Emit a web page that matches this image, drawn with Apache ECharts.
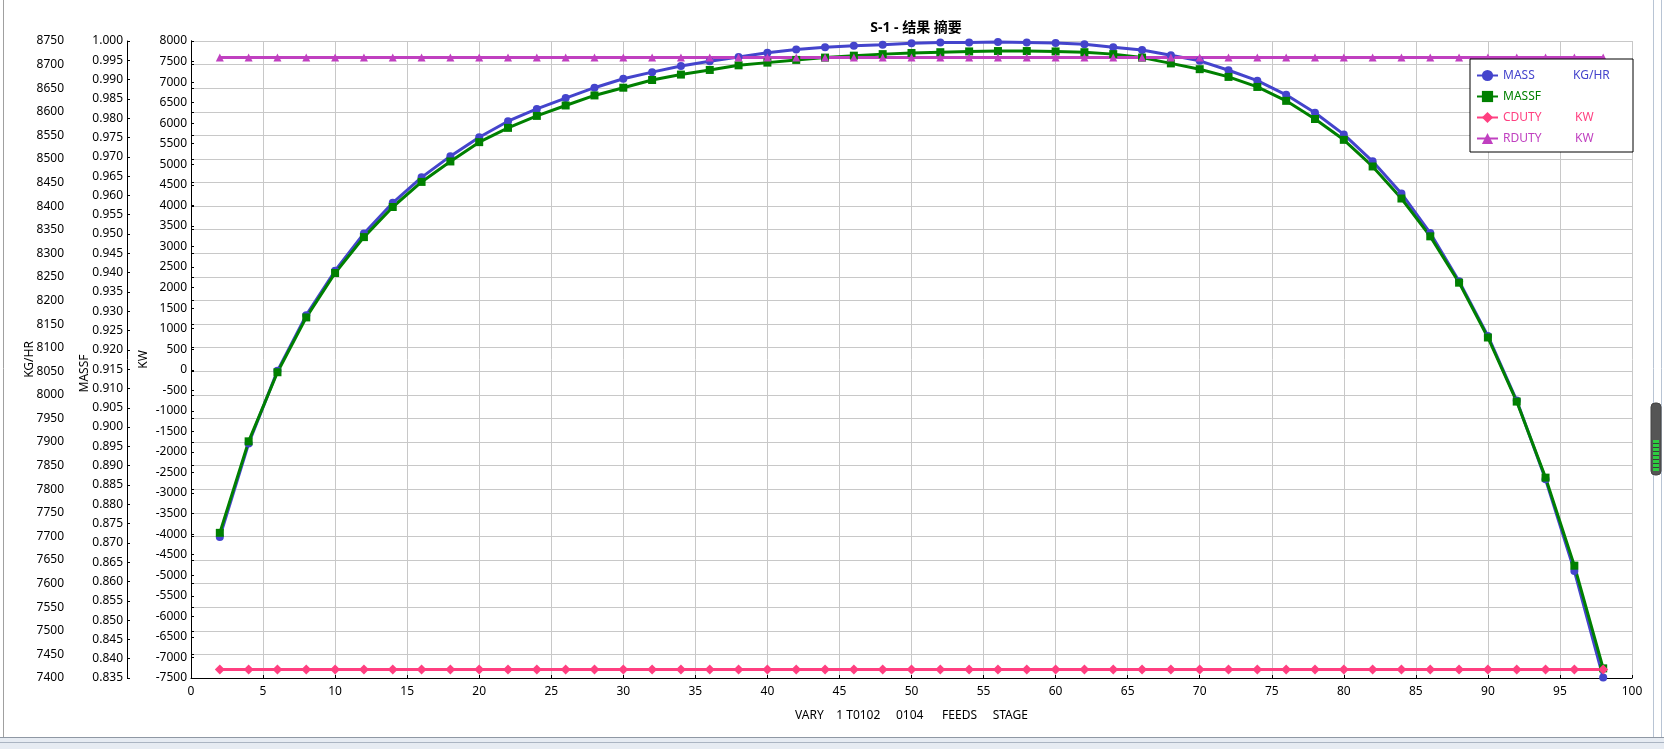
<!DOCTYPE html>
<html>
<head>
<meta charset="utf-8">
<title>S-1 - 结果 摘要</title>
<script src="https://cdn.jsdelivr.net/npm/echarts@6/dist/echarts.min.js"></script>
<style>
  html, body { margin: 0; padding: 0; background: #fff; }
  #chart_div { width: 1664px; height: 749px; }
</style>
</head>
<body>
<div id="chart_div"></div>
<script>
// 横轴：进料板位置
var stage = [2, 4, 6, 8, 10, 12, 14, 16, 18, 20, 22, 24, 26, 28, 30, 32, 34, 36, 38, 40,
  42, 44, 46, 48, 50, 52, 54, 56, 58, 60, 62, 64, 66, 68, 70, 72, 74, 76, 78, 80,
  82, 84, 86, 88, 90, 92, 94, 96, 98]

// MASS  KG/HR
var mass = [7699, 7897, 8051, 8169, 8263, 8342, 8407, 8461, 8506, 8546,
  8580, 8606, 8629, 8651, 8670, 8684, 8697, 8707, 8716, 8725,
  8732, 8737, 8740, 8742, 8745, 8747, 8747, 8748, 8747, 8746,
  8743, 8737, 8731, 8720, 8708, 8688, 8666, 8636, 8598, 8552,
  8495, 8427, 8343, 8241, 8125, 7988, 7821, 7627, 7401]

// MASSF
var massf = [0.8726, 0.8963, 0.9142, 0.9284, 0.9399, 0.9492, 0.9570, 0.9635, 0.9688, 0.9738,
  0.9775, 0.9806, 0.9833, 0.9859, 0.9879, 0.9899, 0.9913, 0.9925, 0.9937, 0.9944,
  0.9951, 0.9957, 0.9962, 0.9966, 0.9969, 0.9971, 0.9973, 0.9974, 0.9974, 0.9973,
  0.9971, 0.9966, 0.9957, 0.9942, 0.9927, 0.9907, 0.9881, 0.9845, 0.9798, 0.9744,
  0.9675, 0.9592, 0.9494, 0.9374, 0.9232, 0.9066, 0.8869, 0.8641, 0.8375]

// CDUTY  KW
var cduty = [-7295, -7295, -7295, -7295, -7295, -7295, -7295, -7295, -7295, -7295,
  -7295, -7295, -7295, -7295, -7295, -7295, -7295, -7295, -7295, -7295,
  -7295, -7295, -7295, -7295, -7295, -7295, -7295, -7295, -7295, -7295,
  -7295, -7295, -7295, -7295, -7295, -7295, -7295, -7295, -7295, -7295,
  -7295, -7295, -7295, -7295, -7295, -7295, -7295, -7295, -7295]

// RDUTY  KW
var rduty = [7600, 7600, 7600, 7600, 7600, 7600, 7600, 7600, 7600, 7600,
  7600, 7600, 7600, 7600, 7600, 7600, 7600, 7600, 7600, 7600,
  7600, 7600, 7600, 7600, 7600, 7600, 7600, 7600, 7600, 7600,
  7600, 7600, 7600, 7600, 7600, 7600, 7600, 7600, 7600, 7600,
  7600, 7600, 7600, 7600, 7600, 7600, 7600, 7600, 7600]

var colors = {
  MASS: '#4444cc',
  MASSF: '#008000',
  CDUTY: '#ff3f80',
  RDUTY: '#c040c0'
}

var FONT = 'Noto Sans, Noto Sans CJK SC, sans-serif'

function pairs(vals) {
  return stage.map(function (s, i) { return [s, vals[i]] })
}

// 不要千位分隔符
function plain(v) { return String(v) }

function yAx(name, min, max, interval, offset, extra) {
  var ax = {
    type: 'value',
    position: 'left',
    offset: offset,
    min: min,
    max: max,
    interval: interval,
    name: name,
    nameLocation: 'middle',
    nameGap: 0,
    nameMoveOverlap: false,
    nameTextStyle: { color: '#000', fontSize: 12, fontFamily: FONT },
    axisLine: { show: true, lineStyle: { color: '#000', width: 1 } },
    axisTick: { show: true, inside: true, length: 3, lineStyle: { color: '#000' } },
    axisLabel: { color: '#000', fontSize: 12, fontFamily: FONT, margin: 4, formatter: plain },
    splitLine: { show: false }
  }
  return Object.assign(ax, extra || {})
}

var myChart = echarts.init(document.getElementById('chart_div'), null, { renderer: 'canvas' })

var richBase = { lineHeight: 14, fontSize: 12, fontFamily: FONT }
function rs(color, width) {
  return Object.assign({ color: color, width: width }, richBase)
}

var option = {
  backgroundColor: '#fff',
  animation: false,
  title: {
    text: 'S-1 - 结果 摘要',
    left: 911,
    top: 16,
    textAlign: 'center',
    textStyle: { fontSize: 14, fontWeight: 'bold', color: '#000', fontFamily: FONT }
  },
  grid: { left: 191, right: 32, top: 41, bottom: 71 },
  legend: {
    orient: 'vertical',
    left: 1470,
    top: 59,
    padding: [10.5, 6, 7.5, 6],
    itemWidth: 21,
    itemHeight: 14,
    itemGap: 9,
    backgroundColor: '#fff',
    borderColor: '#000',
    borderWidth: 1,
    borderRadius: 0,
    data: ['MASS', 'MASSF', 'CDUTY', 'RDUTY'],
    formatter: function (name) {
      var k = { MASS: 'm', MASSF: 'f', CDUTY: 'c', RDUTY: 'r' }[name]
      var unit = { MASS: 'KG/HR', MASSF: '', CDUTY: 'KW', RDUTY: 'KW' }[name]
      return '{' + k + 'n|' + name + '}{' + k + 'u|' + unit + '}'
    },
    textStyle: {
      fontSize: 12,
      fontFamily: FONT,
      rich: {
        mn: rs(colors.MASS, 70), mu: rs(colors.MASS, 54),
        fn: rs(colors.MASSF, 70), fu: rs(colors.MASSF, 54),
        cn: rs(colors.CDUTY, 72), cu: rs(colors.CDUTY, 52),
        rn: rs(colors.RDUTY, 72), ru: rs(colors.RDUTY, 52)
      }
    }
  },
  xAxis: {
    type: 'value',
    min: 0,
    max: 100,
    interval: 5,
    name: 'VARY    1 T0102     0104      FEEDS     STAGE',
    nameLocation: 'middle',
    nameGap: 32,
    nameMoveOverlap: false,
    nameTextStyle: { color: '#000', fontSize: 12, fontFamily: FONT },
    axisLine: { show: true, onZero: false, lineStyle: { color: '#000', width: 1 } },
    axisTick: { show: true, inside: true, length: 3, lineStyle: { color: '#000' } },
    axisLabel: { color: '#000', fontSize: 12, fontFamily: FONT, margin: 8, formatter: plain },
    splitLine: { show: true, lineStyle: { color: '#c8c8c8', width: 1 } }
  },
  yAxis: [
    yAx('KG/HR', 7400, 8750, 50, 123, {
      nameGap: 32,
      splitLine: { show: true, lineStyle: { color: '#c8c8c8', width: 1 } }
    }),
    yAx('MASSF', 0.835, 1.0, 0.005, 64, {
      nameGap: 36,
      nameTextStyle: { color: '#000', fontSize: 12, fontFamily: FONT, padding: [0, 28, 0, 0] },
      axisLabel: {
        color: '#000', fontSize: 12, fontFamily: FONT, margin: 4,
        formatter: function (v) { return v.toFixed(3) }
      }
    }),
    yAx('KW', -7500, 8000, 500, 0, { nameGap: 41.5 })
  ],
  series: [
    {
      name: 'MASS', type: 'line', yAxisIndex: 0, data: pairs(mass),
      symbol: 'circle', symbolSize: 8, clip: false,
      lineStyle: { color: colors.MASS, width: 3 },
      itemStyle: { color: colors.MASS }
    },
    {
      name: 'MASSF', type: 'line', yAxisIndex: 1, data: pairs(massf),
      symbol: 'rect', symbolSize: 8, clip: false,
      lineStyle: { color: colors.MASSF, width: 3 },
      itemStyle: { color: colors.MASSF }
    },
    {
      name: 'CDUTY', type: 'line', yAxisIndex: 2, data: pairs(cduty),
      symbol: 'diamond', symbolSize: 10, clip: false,
      lineStyle: { color: colors.CDUTY, width: 3 },
      itemStyle: { color: colors.CDUTY }
    },
    {
      name: 'RDUTY', type: 'line', yAxisIndex: 2, data: pairs(rduty),
      symbol: 'triangle', symbolSize: 8, clip: false,
      lineStyle: { color: colors.RDUTY, width: 3 },
      itemStyle: { color: colors.RDUTY }
    }
  ],
  // 窗口边框与滚动条
  graphic: [
    { type: 'line', shape: { x1: 3.5, y1: 0, x2: 3.5, y2: 737 }, style: { stroke: '#a0a0a0', lineWidth: 1 }, silent: true },
    { type: 'line', shape: { x1: 1653.5, y1: 0, x2: 1653.5, y2: 737 }, style: { stroke: '#b8c4d4', lineWidth: 1 }, silent: true },
    { type: 'line', shape: { x1: 1661.5, y1: 0, x2: 1661.5, y2: 737 }, style: { stroke: '#b8c4d4', lineWidth: 1 }, silent: true },
    { type: 'rect', shape: { x: 0, y: 737, width: 1664, height: 12 }, style: { fill: '#e6ebf2' }, silent: true },
    { type: 'line', shape: { x1: 0, y1: 737.5, x2: 1664, y2: 737.5 }, style: { stroke: '#8f98a4', lineWidth: 1 }, silent: true },
    { type: 'line', shape: { x1: 0, y1: 742.5, x2: 1664, y2: 742.5 }, style: { stroke: '#aab4c2', lineWidth: 1 }, silent: true },
    { type: 'rect', shape: { x: 1651, y: 403, width: 10, height: 72, r: 4 }, style: { fill: '#555', stroke: '#444' }, silent: true },
    { type: 'rect', shape: { x: 1653, y: 440, width: 6, height: 31 }, style: { fill: '#2ecc40' }, silent: true },
    { type: 'group', silent: true, children: [
      { type: 'line', shape: { x1: 1653, y1: 443.5, x2: 1659, y2: 443.5 }, style: { stroke: '#3a3a3a', lineWidth: 1 } },
      { type: 'line', shape: { x1: 1653, y1: 447.5, x2: 1659, y2: 447.5 }, style: { stroke: '#3a3a3a', lineWidth: 1 } },
      { type: 'line', shape: { x1: 1653, y1: 451.5, x2: 1659, y2: 451.5 }, style: { stroke: '#3a3a3a', lineWidth: 1 } },
      { type: 'line', shape: { x1: 1653, y1: 455.5, x2: 1659, y2: 455.5 }, style: { stroke: '#3a3a3a', lineWidth: 1 } },
      { type: 'line', shape: { x1: 1653, y1: 459.5, x2: 1659, y2: 459.5 }, style: { stroke: '#3a3a3a', lineWidth: 1 } },
      { type: 'line', shape: { x1: 1653, y1: 463.5, x2: 1659, y2: 463.5 }, style: { stroke: '#3a3a3a', lineWidth: 1 } },
      { type: 'line', shape: { x1: 1653, y1: 467.5, x2: 1659, y2: 467.5 }, style: { stroke: '#3a3a3a', lineWidth: 1 } }
    ] }
  ]
}

myChart.setOption(option)
</script>
</body>
</html>
